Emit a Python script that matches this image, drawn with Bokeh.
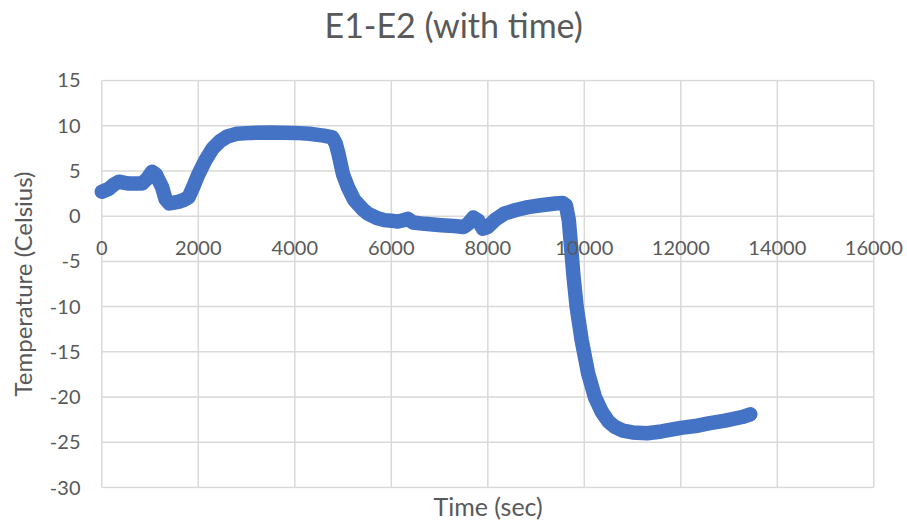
from bokeh.plotting import figure
from bokeh.models import Range1d, FixedTicker, Title
from bokeh.embed import file_html
from bokeh.resources import INLINE

# E1-E2 temperature difference over elapsed time
time_sec = [0, 140, 250, 350, 450, 560, 700, 835, 950, 1040, 1120, 1250, 1320, 1400,
            1500, 1600, 1700, 1800, 1900, 2000, 2150, 2300, 2450, 2600, 2800, 3100,
            3500, 4000, 4300, 4600, 4780, 4850, 4900, 5000, 5100, 5230, 5400, 5510,
            5700, 5855, 6000, 6135, 6250, 6340, 6450, 6690, 7035, 7300, 7500, 7600,
            7700, 7800, 7900, 8000, 8150, 8350, 8600, 8835, 9100, 9400, 9550, 9620,
            9680, 9720, 9770, 9840, 9945, 10080, 10220, 10360, 10500, 10635, 10800,
            11000, 11300, 11600, 12000, 12300, 12575, 12920, 13270, 13440]
temp_c = [2.7, 3.0, 3.5, 3.8, 3.7, 3.6, 3.6, 3.6, 4.2, 4.9, 4.6, 3.2, 1.9, 1.4,
          1.5, 1.6, 1.8, 2.1, 3.3, 4.6, 6.2, 7.5, 8.3, 8.8, 9.1, 9.2,
          9.25, 9.2, 9.1, 8.9, 8.7, 8.0, 7.0, 4.6, 3.2, 1.8, 0.8, 0.3,
          -0.2, -0.44, -0.5, -0.6, -0.45, -0.3, -0.7, -0.85, -1.0, -1.1, -1.2, -0.8,
          -0.15, -0.5, -1.4, -1.2, -0.4, 0.3, 0.7, 1.0, 1.2, 1.4, 1.45, 1.2,
          -0.5, -3.0, -6.3, -10.0, -13.7, -17.4, -20.0, -21.6, -22.7, -23.3, -23.7,
          -23.9, -24.0, -23.8, -23.4, -23.2, -22.9, -22.6, -22.2, -21.9]

x_ticks = [0, 2000, 4000, 6000, 8000, 10000, 12000, 14000, 16000]
x_tick_labels = ["0", "2000", "4000", "6000", "8000", "10000", "12000", "14000", "16000"]
y_ticks = [15, 10, 5, 0, -5, -10, -15, -20, -25, -30]
y_tick_labels = ["15", "10", "5", "0", "-5", "-10", "-15", "-20", "-25", "-30"]

FONT = "Lato"
GREY_TEXT = "#595959"
GRID = "#d9d9d9"

# the frame is a little wider than the gridded area so that the
# end labels of the zero-crossing axis are not cut off
p = figure(width=907, height=522, output_backend="svg", toolbar_location=None,
           x_range=Range1d(-193, 16657), y_range=Range1d(-30.1, 15.1),
           min_border_left=92, min_border_right=2, min_border_top=79,
           min_border_bottom=34)
p.outline_line_color = None

# title, pushed up by an empty spacer title between it and the frame
p.add_layout(Title(text=" ", text_font_size="1px", standoff=32), "above")
p.title.text = "E1-E2 (with time)"
p.title.align = "left"
p.title.offset = 232
p.title.standoff = 0
p.title.text_font = FONT
p.title.text_font_size = "34px"
p.title.text_font_style = "normal"
p.title.text_color = GREY_TEXT

# gridlines limited to the tick span
p.xgrid.grid_line_color = None
p.ygrid.grid_line_color = None
n_y, n_x = len(y_ticks), len(x_ticks)
p.segment(x0=[x_ticks[0]] * n_y, x1=[x_ticks[-1]] * n_y, y0=y_ticks, y1=y_ticks,
          line_color=GRID, line_width=1.5)
p.segment(x0=x_ticks, x1=x_ticks, y0=[y_ticks[-1]] * n_x, y1=[y_ticks[0]] * n_x,
          line_color=GRID, line_width=1.5)

# horizontal axis crosses at zero, labels hang under the zero line
xa = p.xaxis[0]
xa.ticker = FixedTicker(ticks=x_ticks)
xa.major_label_overrides = dict(zip(x_ticks, x_tick_labels))
xa.fixed_location = 0
xa.major_label_standoff = 19

ya = p.yaxis[0]
ya.ticker = FixedTicker(ticks=y_ticks)
ya.major_label_overrides = dict(zip(y_ticks, y_tick_labels))
ya.major_label_standoff = 6
ya.axis_label = "Temperature (Celsius)"
ya.axis_label_text_font = FONT
ya.axis_label_text_font_size = "24px"
ya.axis_label_text_font_style = "normal"
ya.axis_label_text_color = GREY_TEXT
ya.axis_label_standoff = 10

for ax in (xa, ya):
    ax.axis_line_color = None
    ax.major_tick_line_color = None
    ax.minor_tick_line_color = None
    ax.major_label_text_font = FONT
    ax.major_label_text_font_size = "20px"
    ax.major_label_text_color = GREY_TEXT

p.add_layout(Title(text="Time (sec)", align="left", offset=341, text_font=FONT,
                   text_font_size="25px", text_font_style="normal",
                   text_color=GREY_TEXT, standoff=0), "below")

p.line(time_sec, temp_c, line_color="#4472c4", line_width=14.5,
       line_cap="round", line_join="round")

open("out.html", "w").write(file_html(p, INLINE))
